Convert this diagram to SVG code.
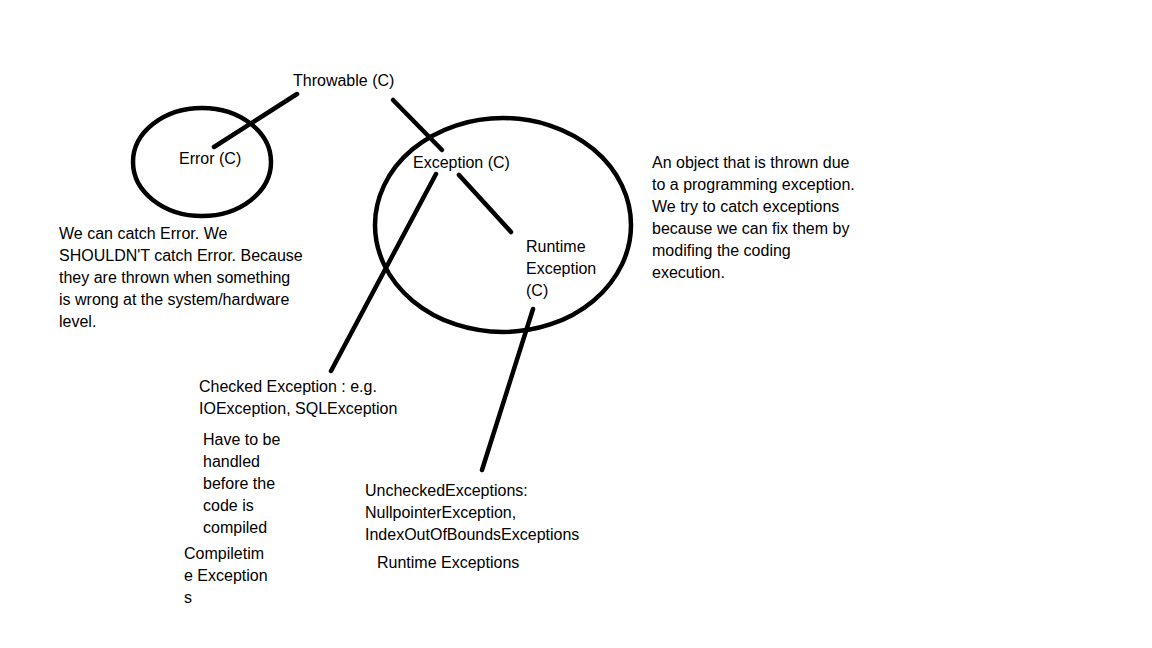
<svg xmlns="http://www.w3.org/2000/svg" width="1152" height="648" viewBox="0 0 1152 648">
<style>
text{font-family:"Liberation Sans",Arial,sans-serif;font-size:16px;fill:#000}
.s{fill:none;stroke:#000;stroke-width:4.5;stroke-linecap:round}
</style>
<rect width="1152" height="648" fill="#fff"/>
<g id="connectors">
<line class="s" x1="297" y1="94" x2="214" y2="147"/>
<line class="s" x1="393" y1="100" x2="442" y2="150"/>
<line class="s" x1="436" y1="174" x2="331" y2="371"/>
<line class="s" x1="459" y1="175" x2="511" y2="232"/>
<line class="s" x1="533" y1="309" x2="482" y2="470"/>
</g>
<g id="throwable"><text x="293" y="86">Throwable (C)</text></g>
<g id="error">
<ellipse class="s" cx="202" cy="162" rx="69" ry="54"/>
<text x="179" y="164">Error (C)</text>
</g>
<g id="exception">
<ellipse class="s" cx="503" cy="225" rx="128" ry="107"/>
<text x="413" y="168">Exception (C)</text>
</g>
<g id="runtime">
<text x="526" y="252">Runtime</text>
<text x="526" y="274">Exception</text>
<text x="526" y="296">(C)</text>
</g>
<g id="error-note">
<text x="59" y="239">We can catch Error. We</text>
<text x="59" y="261">SHOULDN'T catch Error. Because</text>
<text x="59" y="283">they are thrown when something</text>
<text x="59" y="305">is wrong at the system/hardware</text>
<text x="59" y="327">level.</text>
</g>
<g id="exception-note">
<text x="652" y="168">An object that is thrown due</text>
<text x="652" y="190">to a programming exception.</text>
<text x="652" y="212">We try to catch exceptions</text>
<text x="652" y="234">because we can fix them by</text>
<text x="652" y="256">modifing the coding</text>
<text x="652" y="278">execution.</text>
</g>
<g id="checked">
<text x="199" y="392">Checked Exception : e.g.</text>
<text x="199" y="414">IOException, SQLException</text>
</g>
<g id="checked-note">
<text x="203" y="445">Have to be</text>
<text x="203" y="467">handled</text>
<text x="203" y="489">before the</text>
<text x="203" y="511">code is</text>
<text x="203" y="533">compiled</text>
</g>
<g id="compiletime">
<text x="184" y="559">Compiletim</text>
<text x="184" y="581">e Exception</text>
<text x="184" y="603">s</text>
</g>
<g id="unchecked">
<text x="365" y="496">UncheckedExceptions:</text>
<text x="365" y="518">NullpointerException,</text>
<text x="365" y="540">IndexOutOfBoundsExceptions</text>
</g>
<g id="runtime-exceptions"><text x="377" y="568">Runtime Exceptions</text></g>
</svg>
